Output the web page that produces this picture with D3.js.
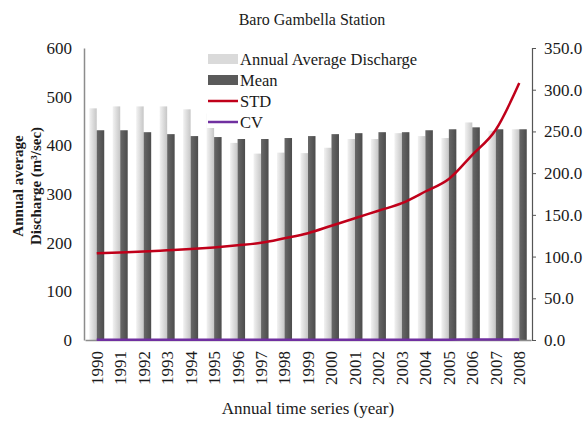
<!DOCTYPE html>
<html>
<head>
<meta charset="utf-8">
<script src="https://cdn.jsdelivr.net/npm/d3@7"></script>
<style>
    body { margin: 0; background: #fff; }
    text { font-family: "Liberation Serif", "Times New Roman", serif; fill: #1a1a1a; }
</style>
</head>
<body>
<div id="canvas"></div>
<script>
// data
var years = ["1990", "1991", "1992", "1993", "1994", "1995", "1996", "1997", "1998", "1999",
    "2000", "2001", "2002", "2003", "2004", "2005", "2006", "2007", "2008"];
var annualAvg = [476, 480, 480, 480, 474, 465, 405, 383, 385, 384,
    395, 413, 413, 425, 419, 415, 447, 430, 433];
var meanVals = [431, 431, 427, 423, 419, 417, 413, 413, 415, 419,
    423, 425, 427, 427, 431, 433, 437, 433, 433];
var stdVals = [104, 105, 106, 107.5, 109, 111, 113.5, 116.5, 122, 128,
    137, 146, 155, 164, 178, 193, 222, 252, 308];
var cvVals = [0.24, 0.24, 0.25, 0.25, 0.26, 0.27, 0.27, 0.28, 0.29, 0.31,
    0.32, 0.34, 0.36, 0.38, 0.41, 0.45, 0.51, 0.58, 0.71];
var leftTicks = [0, 100, 200, 300, 400, 500, 600];
var rightTicks = [0, 50, 100, 150, 200, 250, 300, 350];
var legendItems = ["Annual Average Discharge", "Mean", "STD", "CV"];

var width = 587, height = 421;
var plotLeft = 84, plotRight = 532, plotTop = 48, plotBottom = 340;

var svg = d3.select("#canvas").append("svg")
    .attr("width", width)
    .attr("height", height);

// gradients for the excel-looking bars
var defs = svg.append("defs");
var gLight = defs.append("linearGradient").attr("id", "gLight");
gLight.append("stop").attr("offset", "0%").attr("stop-color", "#f2f2f2");
gLight.append("stop").attr("offset", "100%").attr("stop-color", "#c6c6c6");
var gDark = defs.append("linearGradient").attr("id", "gDark");
gDark.append("stop").attr("offset", "0%").attr("stop-color", "#686868");
gDark.append("stop").attr("offset", "100%").attr("stop-color", "#4c4c4c");

var x = d3.scaleBand()
    .domain(years)
    .range([plotLeft + 1, plotRight - 1])
    .padding(0);

var y = d3.scaleLinear().domain([0, 600]).range([plotBottom, plotTop]);
var y2 = d3.scaleLinear().domain([0, 350]).range([plotBottom, plotTop]);

var barW = 7.5;

//Bars
svg.append("g").selectAll("rect")
    .data(annualAvg)
    .enter()
    .append("rect")
    .attr("x", function (d, i) { return x(years[i]) + x.bandwidth() / 2 - barW; })
    .attr("y", function (d) { return y(d); })
    .attr("width", barW)
    .attr("height", function (d) { return plotBottom - y(d); })
    .style("fill", "url(#gLight)");

svg.append("g").selectAll("rect")
    .data(meanVals)
    .enter()
    .append("rect")
    .attr("x", function (d, i) { return x(years[i]) + x.bandwidth() / 2; })
    .attr("y", function (d) { return y(d); })
    .attr("width", barW)
    .attr("height", function (d) { return plotBottom - y(d); })
    .style("fill", "url(#gDark)");

//Axes
var leftAxis = svg.append("g")
    .attr("transform", "translate(" + plotLeft + ",0)")
    .call(d3.axisLeft(y).tickValues(leftTicks).tickSize(0).tickPadding(12));
leftAxis.select(".domain").attr("stroke", "#8c8c8c").attr("stroke-width", 1.5);
leftAxis.selectAll("text").style("font-size", "17px");

var rightAxis = svg.append("g")
    .attr("transform", "translate(" + plotRight + ",0)")
    .call(d3.axisRight(y2).tickValues(rightTicks).tickSize(4).tickSizeOuter(4).tickPadding(8)
        .tickFormat(d3.format(".1f")));
rightAxis.select(".domain").attr("stroke", "#555").attr("stroke-width", 1.2);
rightAxis.selectAll(".tick line").attr("stroke", "#555");
rightAxis.selectAll("text").style("font-size", "17px");

var bottomAxis = svg.append("g")
    .attr("transform", "translate(0," + plotBottom + ")")
    .call(d3.axisBottom(x).tickSize(0).tickPadding(0));
bottomAxis.select(".domain").attr("stroke", "#8c8c8c").attr("stroke-width", 1.5);
bottomAxis.selectAll("text")
    .style("font-size", "17px")
    .attr("text-anchor", "end")
    .attr("dy", "0.35em")
    .attr("transform", "translate(0,11) rotate(-90)");

//Lines
var curveLine = d3.line()
    .x(function (d, i) { return x(years[i]) + x.bandwidth() / 2; })
    .y(function (d) { return y2(d); })
    .curve(d3.curveMonotoneX);

svg.append("path")
    .datum(cvVals)
    .attr("d", curveLine)
    .attr("fill", "none")
    .attr("stroke", "#7030a0")
    .attr("stroke-width", 2.5);

svg.append("path")
    .datum(stdVals)
    .attr("d", curveLine)
    .attr("fill", "none")
    .attr("stroke", "#c0001a")
    .attr("stroke-width", 2.5);

//Legend
var legend = svg.append("g").attr("transform", "translate(207,48)");
legend.append("rect")
    .attr("x", 0).attr("y", 0)
    .attr("width", 225).attr("height", 80)
    .style("fill", "#fff");

var rowH = 21;
legendItems.forEach(function (d, i) {
    var cy = 11 + i * rowH;
    if (i < 2) {
        legend.append("rect")
            .attr("x", 1).attr("y", cy - 5)
            .attr("width", 30).attr("height", 10)
            .style("fill", i === 0 ? "#dadada" : "#5a5a5a");
    } else {
        legend.append("line")
            .attr("x1", 1).attr("x2", 31)
            .attr("y1", cy).attr("y2", cy)
            .attr("stroke", i === 2 ? "#c0001a" : "#7030a0")
            .attr("stroke-width", 2.5);
    }
    legend.append("text")
        .attr("x", 33).attr("y", cy)
        .attr("dy", "0.35em")
        .style("font-size", "16.5px")
        .text(d);
});

//Titles
svg.append("text")
    .attr("x", 312).attr("y", 25)
    .attr("text-anchor", "middle")
    .style("font-size", "16px")
    .text("Baro Gambella Station");

svg.append("text")
    .attr("x", 308).attr("y", 414)
    .attr("text-anchor", "middle")
    .style("font-size", "17px")
    .text("Annual time series (year)");

var yTitle = svg.append("text")
    .attr("transform", "translate(23,186) rotate(-90)")
    .attr("text-anchor", "middle")
    .style("font-size", "15px")
    .style("font-weight", "bold");
yTitle.append("tspan").attr("x", 0).attr("dy", "0").text("Annual average");
yTitle.append("tspan").attr("x", 0).attr("dy", "1.2em").text("Discharge (m³/sec)");
</script>
</body>
</html>
